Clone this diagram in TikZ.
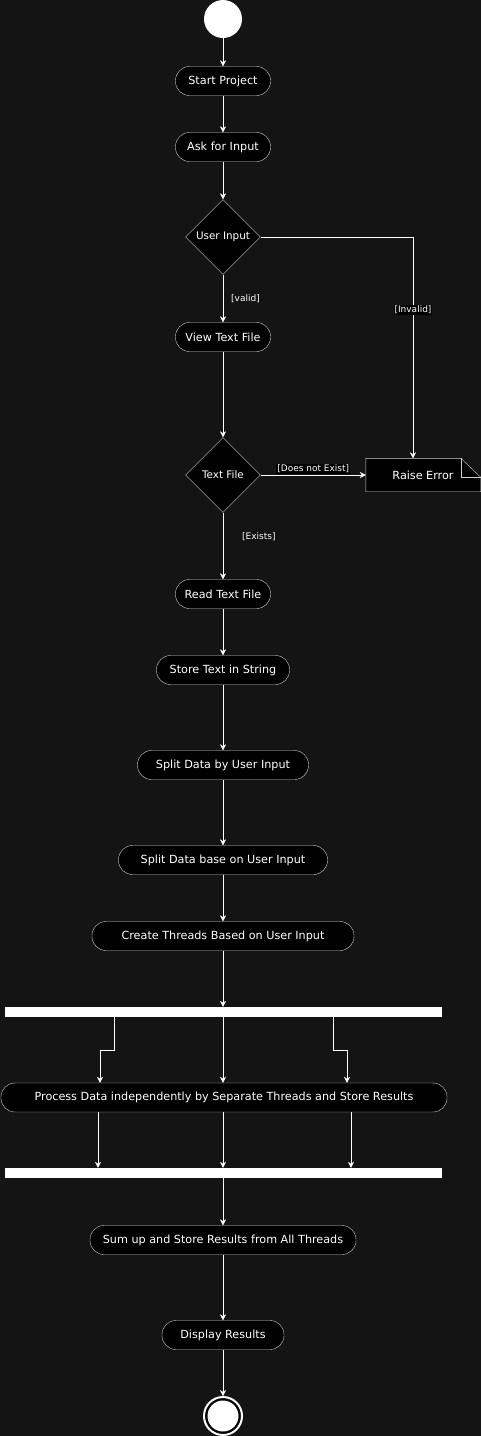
\documentclass[tikz,border=0pt]{standalone}
\usepackage{fontspec}
\setmainfont{DejaVu Sans}
\usetikzlibrary{shapes.geometric, arrows.meta, calc}
\definecolor{canvas}{HTML}{141414}
\definecolor{edge}{HTML}{D0D0D0}
\tikzstyle{action} = [rectangle, rounded corners=14pt, minimum height=29pt, inner xsep=4pt, text centered, draw=edge, fill=black, text=white, font=\fontsize{11.2}{13}\selectfont]
\tikzstyle{decision} = [diamond, minimum width=75pt, minimum height=75pt, inner sep=0pt, text centered, draw=edge, fill=black, text=white, font=\fontsize{10.4}{12}\selectfont]
\tikzstyle{bar} = [rectangle, minimum width=437pt, minimum height=10pt, inner sep=0pt, fill=white]
\tikzstyle{guard} = [text=white, inner sep=1pt, font=\fontsize{9}{11}\selectfont]
\tikzstyle{arrow} = [draw=edge, ->, >={Stealth[length=6pt, width=6pt, inset=2pt]}, white]

\begin{document}
\begin{tikzpicture}[x=1pt, y=-1pt]
\fill[canvas] (0,0) rectangle (481,1436);
\useasboundingbox (0,0) rectangle (481,1436);

% Nodos del diagrama
\node (start) [circle, fill=white, minimum size=38pt, inner sep=0pt] at (223,19) {};
\node (startproj) [action, minimum width=95pt] at (223,81) {Start Project};
\node (askinput) [action, minimum width=95pt] at (223,147) {Ask for Input};
\node (userinput) [decision] at (223,237) {User Input};
\node (viewfile) [action, minimum width=95pt] at (223,337) {View Text File};
\node (textfile) [decision] at (223,475) {Text File};
\node (raise) [minimum width=115pt, minimum height=33pt, inner sep=0pt] at (423.5,475) {};
\fill[black, draw=edge] (raise.north west) -- ++(95,0) -- ++(20,19) |- (raise.south west) -- cycle;
\draw[edge] ($(raise.north west)+(95,0)$) -- ++(0,19) -- ++(20,0);
\node[text=white, font=\fontsize{11.2}{13}\selectfont] at (423,475) {Raise Error};
\node (readfile) [action, minimum width=95pt] at (223,594) {Read Text File};
\node (storetext) [action, minimum width=133pt] at (223,670) {Store Text in String};
\node (splitby) [action, minimum width=171pt] at (223,765) {Split Data by User Input};
\node (splitbase) [action, minimum width=209pt] at (223,860) {Split Data base on User Input};
\node (threads) [action, minimum width=262pt] at (223,936) {Create Threads Based on User Input};
\node (fork) [bar] at (223.5,1012) {};
\node (process) [action, minimum width=446pt] at (224,1097.5) {Process Data independently by Separate Threads and Store Results};
\node (join) [bar] at (223.5,1173) {};
\node (sumup) [action, minimum width=266pt] at (223,1240) {Sum up and Store Results from All Threads};
\node (display) [action, minimum width=122pt] at (223,1335) {Display Results};
\node (stop) [circle, draw=white, line width=2pt, fill=black, minimum size=38pt, inner sep=0pt] at (223,1416) {};
\fill[white] (stop.center) circle (15.5);

% Flechas
\draw [arrow] (start) -- (startproj);
\draw [arrow] (startproj) -- (askinput);
\draw [arrow] (askinput) -- (userinput);
\draw [arrow] (userinput) -- node[guard, right, xshift=7pt, pos=0.5] {[valid]} (viewfile);
\draw [arrow] (userinput.east) -| node[guard, fill=black, pos=0.665] {[Invalid]} (raise.north -| 413,0);
\draw [arrow] (viewfile) -- (textfile);
\draw [arrow] (textfile.east) -- node[guard, fill=black, above, yshift=1pt] {[Does not Exist]} (textfile.east -| raise.west);
\draw [arrow] (textfile) -- node[guard, right, xshift=18pt, pos=0.36] {[Exists]} (readfile);
\draw [arrow] (readfile) -- (storetext);
\draw [arrow] (storetext) -- (splitby);
\draw [arrow] (splitby) -- (splitbase);
\draw [arrow] (splitbase) -- (threads);
\draw [arrow] (threads) -- (threads |- fork.north);
\draw [arrow] (fork.south -| 114,0) |- (107,1050) -| (process.north -| 100,0);
\draw [arrow] (fork.south -| 223,0) -- (process.north -| 223,0);
\draw [arrow] (fork.south -| 333,0) |- (340,1050) -| (process.north -| 347,0);
\draw [arrow] (process.south -| 98,0) -- (join.north -| 98,0);
\draw [arrow] (process.south -| 223,0) -- (join.north -| 223,0);
\draw [arrow] (process.south -| 351,0) -- (join.north -| 351,0);
\draw [arrow] (join.south -| 223,0) -- (sumup);
\draw [arrow] (sumup) -- (display);
\draw [arrow] (display) -- (stop);

\end{tikzpicture}
\end{document}
